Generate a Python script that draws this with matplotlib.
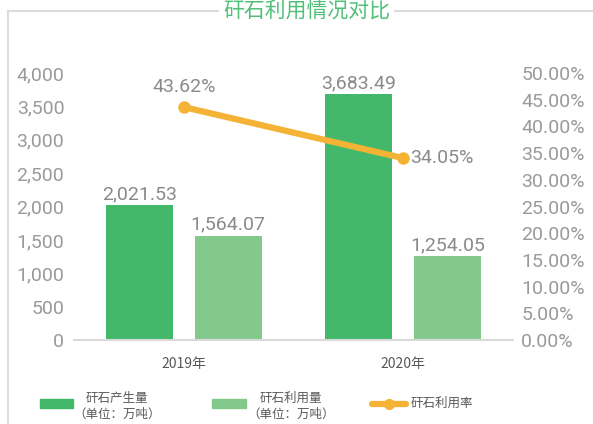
import matplotlib
matplotlib.use('Agg')
import matplotlib.pyplot as plt
from matplotlib.lines import Line2D
from matplotlib.patches import Rectangle
import numpy as np

plt.rcParams['font.family'] = ['Noto Sans CJK SC', 'DejaVu Sans']

years = ['2019年', '2020年']
produced = [2021.53, 3683.49]
used = [1564.07, 1254.05]
use_rate = [43.62, 34.05]

dark_green = '#43b86b'
light_green = '#84c98c'
orange = '#f5b335'
grey = '#8a8a8a'
tick_grey = '#9a9a9a'
num_font = ['Roboto', 'Noto Sans CJK SC', 'DejaVu Sans']
W, H = 593, 424

fig = plt.figure(figsize=(W / 100, H / 100), dpi=100)
ax = fig.add_axes([74 / W, 1 - 340 / H, 439 / W, 267 / H])

x = np.arange(len(years))
bw = 0.305
ax.bar(x - 0.2027, produced, bw, color=dark_green, zorder=2)
ax.bar(x + 0.2027, used, bw, color=light_green, zorder=2)
ax.set_xlim(-0.5, 1.5)
ax.set_ylim(0, 4000)
ax.set_yticks(range(0, 4001, 500))
ax.set_yticklabels([f'{v:,}' for v in range(0, 4001, 500)], family=num_font)
ax.set_xticks(x)
ax.set_xticklabels(years)

for xi, v in zip(x - 0.2027, produced):
    ax.text(xi, v + 30, f'{v:,.2f}', ha='center', va='bottom', fontsize=14, color=grey,
            family=num_font)
for xi, v in zip(x + 0.2027, used):
    ax.text(xi, v + 30, f'{v:,.2f}', ha='center', va='bottom', fontsize=14, color=grey,
            family=num_font)

for s in ['top', 'right', 'left']:
    ax.spines[s].set_visible(False)
ax.spines['bottom'].set_color('#d9d9d9')
ax.spines['bottom'].set_linewidth(1.5)
ax.tick_params(axis='y', length=0, labelsize=14, labelcolor=tick_grey, pad=7)
ax.tick_params(axis='x', length=0, labelsize=10, labelcolor='#595959', pad=12)

# utilisation rate on the secondary axis
ax2 = ax.twinx()
ax2.plot(x, use_rate, color=orange, lw=4.5, marker='o', ms=8, zorder=3, solid_capstyle='round')
ax2.set_ylim(0, 50)
ax2.set_yticks(np.arange(0, 50.1, 5))
ax2.set_yticklabels([f'{v:.2f}%' for v in np.arange(0, 50.1, 5)], family=num_font)
for s in ax2.spines.values():
    s.set_visible(False)
ax2.tick_params(axis='y', length=0, labelsize=14, labelcolor=tick_grey, pad=6)
ax2.text(x[0], use_rate[0] + 2.0, f'{use_rate[0]:.2f}%', ha='center', va='bottom', fontsize=14,
         color=grey, family=num_font)
ax2.text(x[1] + 0.03, use_rate[1], f'{use_rate[1]:.2f}%', ha='left', va='center', fontsize=14,
         color=grey, family=num_font)

# frame with title set into the top border
frame = '#dcdcdc'
fig.add_artist(Line2D([8 / W, 8 / W], [0, 1 - 10.5 / H], color=frame, lw=1.5))
fig.add_artist(Line2D([8 / W, 218 / W], [1 - 10.5 / H] * 2, color=frame, lw=1.5))
fig.add_artist(Line2D([395 / W, 592 / W], [1 - 10.5 / H] * 2, color=frame, lw=1.5))
fig.text(307 / W, 1 - 11 / H, '矸石利用情况对比', ha='center', va='center', fontsize=15, color='#50c078')

# legend
leg_y = 1 - 406.5 / H
fig.add_artist(Rectangle((40 / W, 1 - 408 / H), 33 / W, 9 / H, color=dark_green))
fig.text(117 / W, leg_y, '矸石产生量\n（单位：万吨）', ha='center', va='center',
         fontsize=9, color='#595959', multialignment='center', linespacing=1.25)
fig.add_artist(Rectangle((212 / W, 1 - 408 / H), 34 / W, 9 / H, color=light_green))
fig.text(291 / W, leg_y, '矸石利用量\n（单位：万吨）', ha='center', va='center',
         fontsize=9, color='#595959', multialignment='center', linespacing=1.25)
fig.add_artist(Line2D([372 / W, 406 / W], [1 - 403.5 / H] * 2, color=orange, lw=4.5,
                      solid_capstyle='round'))
fig.add_artist(Line2D([389 / W], [1 - 403.5 / H], color=orange, marker='o', ms=7))
fig.text(411 / W, 1 - 403 / H, '矸石利用率', ha='left', va='center', fontsize=9, color='#595959')

fig.savefig('out.png', dpi=100)
